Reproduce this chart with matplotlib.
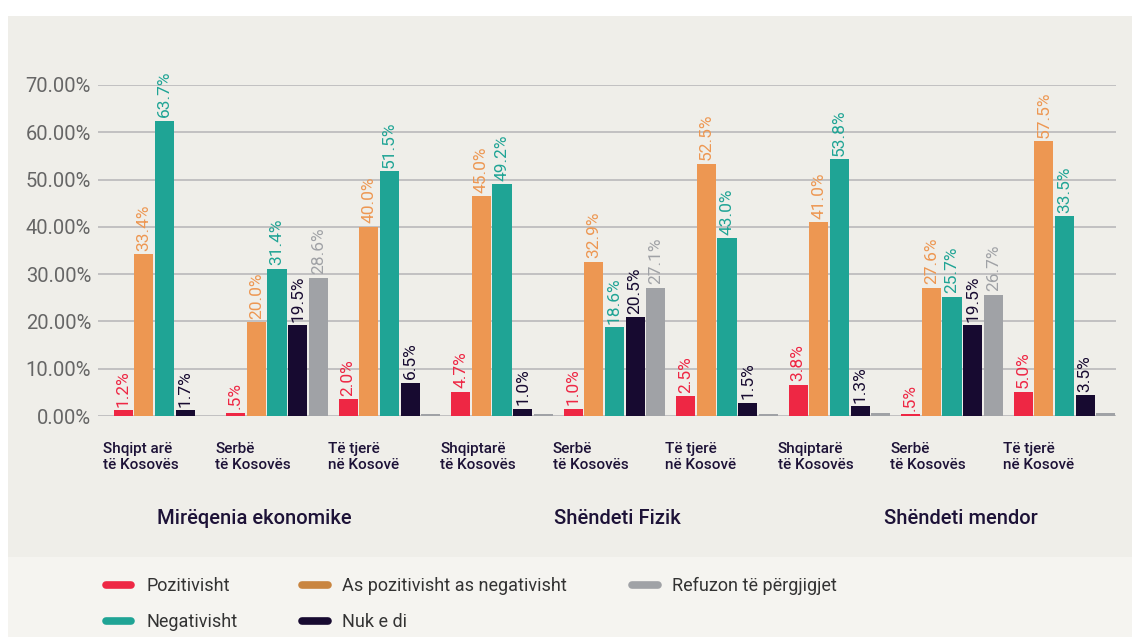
import numpy as np
import matplotlib
matplotlib.use("Agg")
import matplotlib.pyplot as plt
from matplotlib.lines import Line2D
from matplotlib.patches import Rectangle
from matplotlib.transforms import blended_transform_factory

plt.rcParams['font.family'] = ['Roboto', 'DejaVu Sans']

# groups along the x axis
groups = ["Shqipt arë\ntë Kosovës", "Serbë\ntë Kosovës", "Të tjerë\nnë Kosovë",
          "Shqiptarë\ntë Kosovës", "Serbë\ntë Kosovës", "Të tjerë\nnë Kosovë",
          "Shqiptarë\ntë Kosovës", "Serbë\ntë Kosovës", "Të tjerë\nnë Kosovë"]
topics = ["Mirëqenia ekonomike", "Shëndeti Fizik", "Shëndeti mendor"]

series = ["Pozitivisht", "As pozitivisht as negativisht", "Negativisht",
          "Nuk e di", "Refuzon të përgjigjet"]

# bar heights as drawn (%)
pozitivisht = [1.2, 0.7, 3.6, 5.1, 1.5, 4.2, 6.6, 0.4, 5.1]
as_as = [34.2, 19.8, 40.0, 46.5, 32.6, 53.3, 41.0, 27.1, 58.1]
negativisht = [62.4, 31.1, 51.8, 49.0, 18.8, 37.6, 54.3, 25.2, 42.3]
nuk_e_di = [1.2, 19.2, 7.0, 1.5, 20.9, 2.8, 2.1, 19.2, 4.4]
refuzon = [0.0, 29.2, 0.4, 0.4, 27.1, 0.4, 0.6, 25.6, 0.6]

# value labels as printed
lbl_pozitivisht = ["1.2%", ".5%", "2.0%", "4.7%", "1.0%", "2.5%", "3.8%", ".5%", "5.0%"]
lbl_as_as = ["33.4%", "20.0%", "40.0%", "45.0%", "32.9%", "52.5%", "41.0%", "27.6%", "57.5%"]
lbl_negativisht = ["63.7%", "31.4%", "51.5%", "49.2%", "18.6%", "43.0%", "53.8%", "25.7%", "33.5%"]
lbl_nuk_e_di = ["1.7%", "19.5%", "6.5%", "1.0%", "20.5%", "1.5%", "1.3%", "19.5%", "3.5%"]
lbl_refuzon = ["", "28.6%", "", "", "27.1%", "", "", "26.7%", ""]

yticks = [0, 10, 20, 30, 40, 50, 60, 70]

colors = ["#ee2744", "#ed9752", "#1fa495", "#170a30", "#a0a2a6"]
legend_colors = ["#ee2744", "#c98540", "#1fa495", "#170a30", "#a0a2a6"]

W, H = 1132, 637
fig = plt.figure(figsize=(W / 100, H / 100), dpi=100)
fig.patch.set_facecolor("white")
# background panels
fig.add_artist(Rectangle((8 / W, 1 - 557 / H), 1 - 8 / W, (557 - 16) / H,
                         transform=fig.transFigure, facecolor="#efeee9",
                         edgecolor="none", zorder=-10))
fig.add_artist(Rectangle((8 / W, 0), 1 - 8 / W, 1 - 557 / H,
                         transform=fig.transFigure, facecolor="#f5f4f0",
                         edgecolor="none", zorder=-10))

ax = fig.add_axes([98 / W, 1 - 416 / H, (1116 - 98) / W, (416 - 85) / H])
ax.set_facecolor("none")

x = np.arange(len(groups))
pitch = 0.184
width = 0.169
values = [pozitivisht, as_as, negativisht, nuk_e_di, refuzon]
labels = [lbl_pozitivisht, lbl_as_as, lbl_negativisht, lbl_nuk_e_di, lbl_refuzon]
for k, (vals, lbls) in enumerate(zip(values, labels)):
    xs = x + (k - 2) * pitch
    ax.bar(xs, vals, width=width, color=colors[k], zorder=3)
    for xi, v, t in zip(xs, vals, lbls):
        if t:
            ax.annotate(t, (xi, v), xytext=(0, 2.5), textcoords="offset points",
                        rotation=90, ha="center", va="bottom", fontsize=12.5,
                        color=colors[k], annotation_clip=False)

ax.set_xlim((98 - 164.5) / 112.5, (1116 - 164.5) / 112.5)
ax.set_ylim(0, 70)
ax.set_yticks(yticks)
ax.set_yticklabels([f"{t:.2f}%" for t in yticks], fontsize=14.5, color="#666666")
ax.tick_params(axis="y", length=0, pad=5)
ax.set_xticks([])
ax.grid(axis="y", color="#b9b9bb", linewidth=1.2, zorder=0)
for s in ax.spines.values():
    s.set_visible(False)

trans = blended_transform_factory(ax.transData, fig.transFigure)
for xi, g in zip(x, groups):
    ax.text(xi - 0.55, 1 - 457 / H, g, transform=trans, ha="left", va="center",
            fontsize=11, fontweight="medium", color="#1d1237", linespacing=1.15)
topic_shift = [-0.2, 0.03, 0.08]
for i, t in enumerate(topics):
    ax.text(x[3 * i + 1] + topic_shift[i], 1 - 518 / H, t, transform=trans,
            ha="center", va="center", fontsize=14.5, fontweight="medium",
            color="#1d1237")

handles = [Line2D([0], [0], color=c, lw=5.5, solid_capstyle="round")
           for c in legend_colors]
order = [0, 2, 1, 3, 4]
fig.legend([handles[i] for i in order], [series[i] for i in order], ncol=3,
           loc="upper left", bbox_to_anchor=(106 / W, 1 - 577 / H),
           frameon=False, fontsize=13, labelcolor="#333333",
           handlelength=1.4, handletextpad=0.82, columnspacing=3.6,
           labelspacing=1.0, borderpad=0, borderaxespad=0)

fig.savefig("out.png", dpi=100)
